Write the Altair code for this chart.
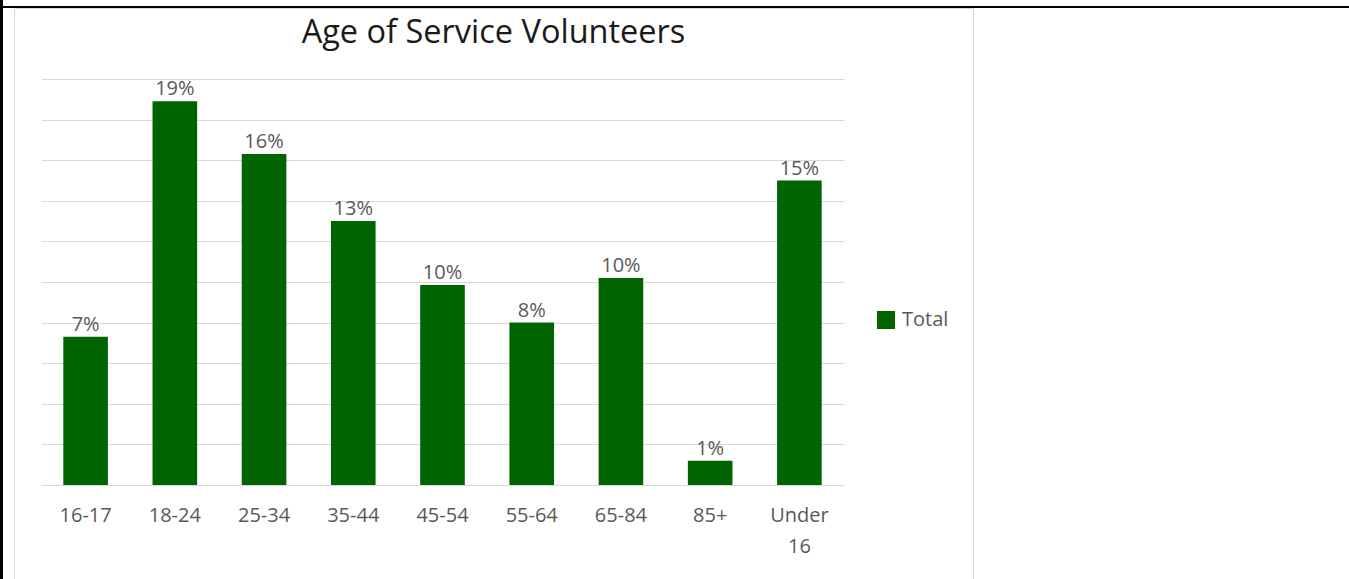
import altair as alt
import pandas as pd

# ---- data ----
categories = ["16-17", "18-24", "25-34", "35-44", "45-54", "55-64", "65-84", "85+", "Under 16"]
shares = [0.073, 0.189, 0.163, 0.130, 0.0985, 0.080, 0.102, 0.012, 0.150]
series_name = ["Total"] * len(categories)
grid_values = [0.0, 0.02, 0.04, 0.06, 0.08, 0.10, 0.12, 0.14, 0.16, 0.18, 0.20]

df = pd.DataFrame({"age": categories, "share": shares, "series": series_name})

FONT = "Open Sans"
GREY_TXT = "#595959"
GREEN = "#006400"
GRID = "#d9d9d9"

x_enc = alt.X(
    "age:N",
    sort=categories,
    scale=alt.Scale(paddingInner=0.5, paddingOuter=0.25),
    axis=alt.Axis(
        title=None, labelAngle=0, ticks=False, domain=False,
        labelFont=FONT, labelFontSize=20, labelColor=GREY_TXT,
        labelPadding=20, labelLineHeight=31,
        labelExpr="split(datum.label, ' ')",
    ),
)
y_enc = alt.Y(
    "share:Q",
    scale=alt.Scale(domain=[0, 0.2], nice=False),
    axis=alt.Axis(
        title=None, values=grid_values, labels=False, ticks=False,
        domain=False, grid=True, gridColor=GRID, gridWidth=1,
    ),
)

base = alt.Chart(df)

bars = base.mark_bar().encode(
    x=x_enc,
    y=y_enc,
    color=alt.Color(
        "series:N",
        scale=alt.Scale(domain=["Total"], range=[GREEN]),
        legend=alt.Legend(
            title=None, orient="none", legendX=835, legendY=231,
            symbolType="square", symbolSize=324, symbolStrokeWidth=0,
            labelFont=FONT, labelFontSize=20, labelColor=GREY_TXT,
            labelOffset=6, padding=0,
        ),
    ),
)

labels = base.mark_text(
    baseline="alphabetic", dy=-6, font=FONT, fontSize=20, color=GREY_TXT
).encode(
    x=alt.X("age:N", sort=categories),
    y=alt.Y("share:Q"),
    text=alt.Text("share:Q", format=".0%"),
)

frame_data = alt.Data(values=[{"k": 0}])
top_line = alt.Chart(frame_data).mark_rule(color="black", strokeWidth=2).encode(
    x=alt.value(-41), x2=alt.value(1308), y=alt.value(-72)
)
left_line = alt.Chart(frame_data).mark_rule(color="black", strokeWidth=3).encode(
    x=alt.value(-39.5), y=alt.value(-79), y2=alt.value(500)
)
border = alt.Chart(frame_data).mark_rect(filled=False, stroke=GRID, strokeWidth=1).encode(
    x=alt.value(-26.5), x2=alt.value(932.5), y=alt.value(-70.5), y2=alt.value(520)
)

chart = alt.layer(border, top_line, left_line, bars, labels).properties(
    width=803,
    height=406,
    title=alt.TitleParams(
        "Age of Service Volunteers", font=FONT, fontSize=32.5,
        fontWeight="normal", color="#1a1a1a", anchor="middle",
        dx=51, dy=76.5, baseline="alphabetic", offset=0,
    ),
    autosize=alt.AutoSizeParams(type="none"),
    padding={"left": 41, "top": 79, "right": 505, "bottom": 94},
    background="white",
).configure_view(stroke=None)

chart.save("out.html", embed_options={"renderer": "svg", "actions": False})
